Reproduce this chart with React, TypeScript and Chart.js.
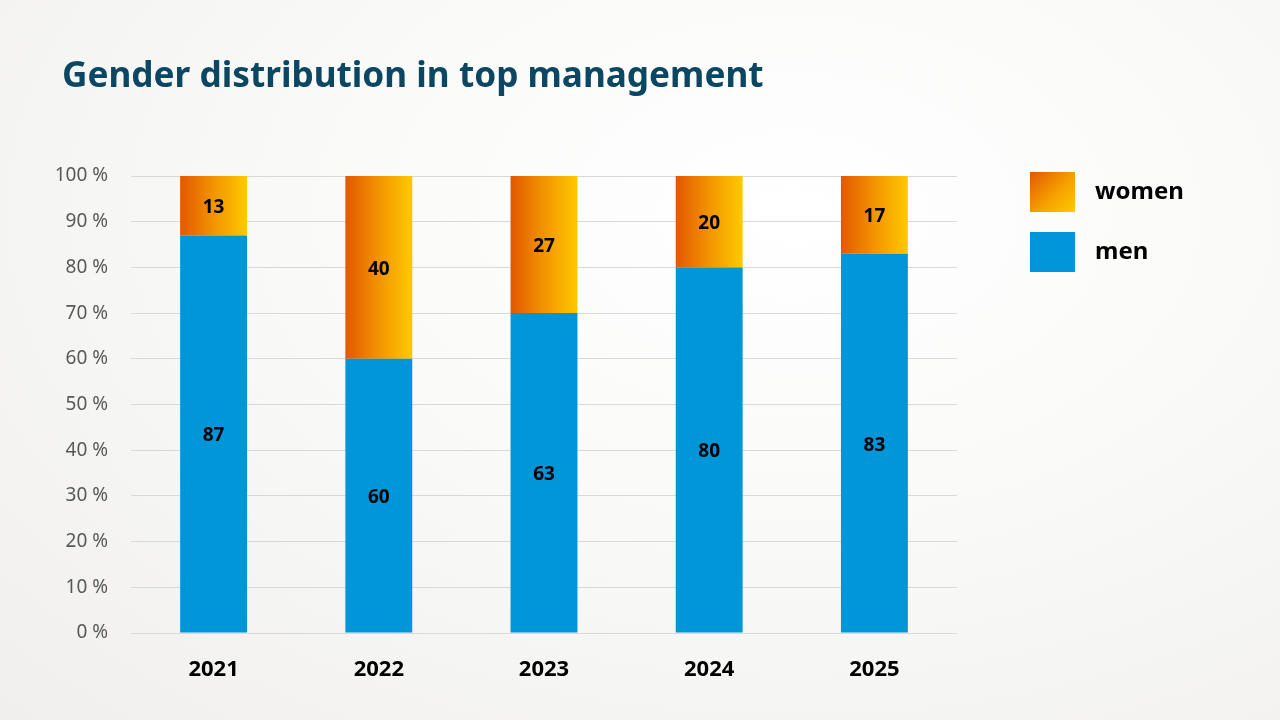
import React, { useEffect, useRef } from "react";
import { Chart, registerables } from "chart.js";

Chart.register(...registerables);

const years = ["2021", "2022", "2023", "2024", "2025"];
const menValues = [87, 60, 63, 80, 83];
const womenValues = [13, 40, 27, 20, 17];
const yTicks = [0, 10, 20, 30, 40, 50, 60, 70, 80, 90, 100];

const FONT = "'Noto Sans', 'Open Sans', sans-serif";
const MEN_COLOR = "#0096d8";
const BAR_PCT = 0.405;

const totals = years.map((_, i) => menValues[i] + womenValues[i]);
const menPct = menValues.map((v, i) => (v / totals[i]) * 100);
const womenPct = womenValues.map((v, i) => (v / totals[i]) * 100);

const labelPlugin = {
  id: "segLabels",
  afterDatasetsDraw(chart: any) {
    const ctx = chart.ctx;
    ctx.save();
    ctx.font = `bold 19px ${FONT}`;
    ctx.fillStyle = "#000";
    ctx.textAlign = "center";
    ctx.textBaseline = "middle";
    chart.data.datasets.forEach((ds: any, di: number) => {
      const meta = chart.getDatasetMeta(di);
      meta.data.forEach((el: any, i: number) => {
        const { x, y, base } = el.getProps(["x", "y", "base"], true);
        ctx.fillText(String(ds.rawValues[i]), x, (y + base) / 2 + 2);
      });
    });
    ctx.restore();
  },
};

function womenGradient(c: any) {
  const chart = c.chart;
  const xs = chart.scales?.x;
  if (!chart.chartArea || !xs) return "#f29000";
  const cx = xs.getPixelForValue(c.dataIndex);
  const half = (xs.width / years.length) * BAR_PCT / 2;
  const g = chart.ctx.createLinearGradient(cx - half, 0, cx + half, 0);
  g.addColorStop(0, "#e35800");
  g.addColorStop(0.5, "#f29400");
  g.addColorStop(1, "#ffc900");
  return g;
}

export default function App() {
  const ref = useRef<HTMLCanvasElement>(null);
  useEffect(() => {
    if (!ref.current) return;
    const chart = new Chart(ref.current, {
      type: "bar",
      data: {
        labels: years,
        datasets: [
          {
            label: "men",
            data: menPct,
            rawValues: menValues,
            backgroundColor: MEN_COLOR,
            categoryPercentage: 1,
            barPercentage: BAR_PCT,
          } as any,
          {
            label: "women",
            data: womenPct,
            rawValues: womenValues,
            backgroundColor: womenGradient,
            categoryPercentage: 1,
            barPercentage: BAR_PCT,
          } as any,
        ],
      },
      options: {
        responsive: false,
        animation: false,
        layout: { padding: { top: 176, right: 323, bottom: 0, left: 0 } },
        plugins: {
          legend: { display: false },
          title: { display: false },
          tooltip: { enabled: false },
        },
        scales: {
          x: {
            stacked: true,
            grid: { display: false },
            border: { display: false },
            ticks: {
              color: "#000",
              font: { family: FONT, size: 22, weight: "bold" },
              padding: 16,
            },
            afterFit(s: any) {
              s.height = 87;
            },
          },
          y: {
            stacked: true,
            min: 0,
            max: 100,
            afterBuildTicks(s: any) {
              s.ticks = yTicks.map((v) => ({ value: v }));
            },
            grid: { color: "#d9d9d9", lineWidth: 1, drawTicks: false },
            border: { display: false },
            ticks: {
              color: "#595959",
              font: { family: FONT, size: 19 },
              padding: 23,
              callback: (v: any) => `${v} %`,
            },
            afterFit(s: any) {
              s.width = 131;
            },
          },
        },
      } as any,
      plugins: [labelPlugin],
    });
    return () => chart.destroy();
  }, []);

  return (
    <div
      style={{
        position: "fixed",
        left: 0,
        top: 0,
        width: 1280,
        height: 720,
        background: "radial-gradient(ellipse at 62% 30%, #ffffff 0%, #fafaf9 40%, #f0efed 100%)",
        fontFamily: FONT,
        overflow: "hidden",
      }}
    >
      <div
        style={{
          position: "absolute",
          left: 62,
          top: 48,
          fontSize: 35.2,
          fontWeight: 700,
          color: "#0b4663",
          lineHeight: "50px",
          whiteSpace: "nowrap",
        }}
      >
        Gender distribution in top management
      </div>
      <canvas ref={ref} width={1280} height={720} style={{ position: "absolute", left: 0, top: 0 }} />
      <div style={{ position: "absolute", left: 1030, top: 172 }}>
        {[
          { name: "women", bg: "linear-gradient(135deg, #e35800 0%, #f5a000 55%, #ffc900 100%)" },
          { name: "men", bg: MEN_COLOR },
        ].map((it) => (
          <div key={it.name} style={{ position: "relative", height: 40, marginBottom: 20 }}>
            <div style={{ width: 45, height: 40, background: it.bg }} />
            <div
              style={{
                position: "absolute",
                left: 65,
                top: -2,
                fontSize: 24,
                fontWeight: 700,
                color: "#000",
                lineHeight: "40px",
                whiteSpace: "nowrap",
              }}
            >
              {it.name}
            </div>
          </div>
        ))}
      </div>
    </div>
  );
}
